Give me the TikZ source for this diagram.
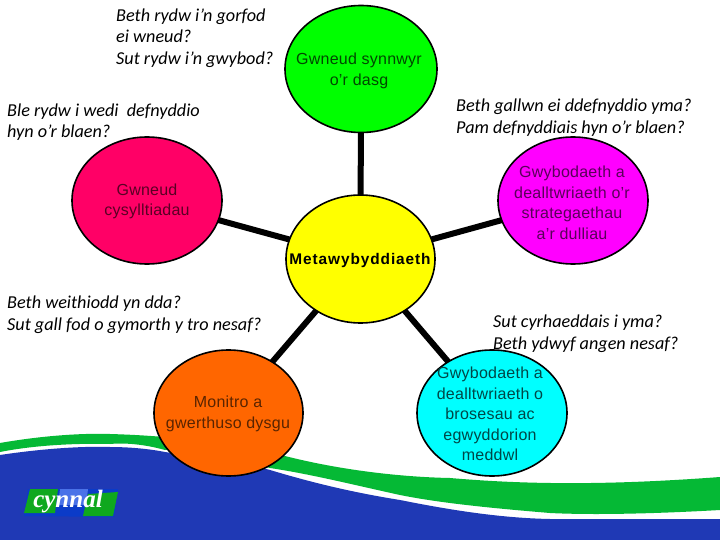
\documentclass[tikz,border=0pt]{standalone}
\usepackage{fontspec}
\setmainfont{Liberation Sans}
\newfontfamily\qfont[ItalicFont=Carlito Italic]{Carlito}
\newfontfamily\logofont{Liberation Serif}
\usetikzlibrary{shapes.geometric}
\definecolor{bandgreen}{HTML}{05B935}
\definecolor{seablue}{HTML}{1F39B5}
\definecolor{logogreen}{HTML}{0FA81E}
\definecolor{logoblue}{HTML}{0B3BC8}
\definecolor{logolight}{HTML}{4A72E8}
\definecolor{nodegreen}{HTML}{00FF00}
\definecolor{nodeyellow}{HTML}{FFFF00}
\definecolor{nodered}{HTML}{FF0066}
\definecolor{nodemag}{HTML}{FF00FF}
\definecolor{nodeor}{HTML}{FF6600}
\definecolor{nodecyan}{HTML}{00FFFF}
\tikzset{
  blob/.style={ellipse,draw=black,line width=1.6pt,inner sep=0pt,outer sep=0pt},
  blobtext/.style={align=center,font=\addfontfeature{LetterSpace=1.5}\fontsize{16}{20.5}\selectfont,inner sep=0pt},
  question/.style={align=left,anchor=west,inner sep=0pt,font=\qfont\itshape\fontsize{18.2}{22}\selectfont,text=black},
  spoke/.style={line width=6pt,draw=black},
}
\begin{document}
\begin{tikzpicture}[x=1pt,y=-1pt]
\useasboundingbox (0,0) rectangle (720,540);
\fill[white] (0,0) rectangle (720,540);
% background bands
\fill[bandgreen] (0,443) .. controls (40,436) and (80,433) .. (110,434)
  .. controls (180,436) and (230,444) .. (285,456)
  .. controls (340,470) and (400,477) .. (450,478)
  .. controls (520,484) and (600,486) .. (720,477)
  -- (720,510) .. controls (650,514) and (590,515) .. (550,513)
  .. controls (490,508) and (440,503) .. (400,495)
  .. controls (350,484) and (310,474) .. (270,468)
  .. controls (230,456) and (190,448) .. (165,450)
  .. controls (140,443) and (120,443) .. (110,444)
  .. controls (70,443) and (30,446) .. (0,452) -- cycle;
\fill[seablue] (0,455) .. controls (40,449) and (80,446) .. (110,447)
  .. controls (130,447) and (150,449) .. (165,452)
  .. controls (200,457) and (240,462) .. (270,470)
  .. controls (310,482) and (350,492) .. (400,500)
  .. controls (450,510) and (500,518) .. (550,519)
  -- (720,519) -- (720,540) -- (0,540) -- cycle;
% logo
\fill[logoblue] (24,516) -- (28,489) -- (118,489) -- (114,517) -- cycle;
\fill[logolight] (60,489) -- (88,489) -- (86,505) -- (58,505) -- cycle;
\fill[logogreen] (30,489) -- (58,489) -- (55,513) -- (24,513) -- cycle;
\fill[logogreen] (88,494) -- (118,492) -- (113,516) -- (83,516) -- cycle;
\node[inner sep=0pt,text=white,font=\logofont\bfseries\itshape\fontsize{25}{25}\selectfont] (logo) at (68,502) {cynnal};
% blobs
\node[blob,fill=nodeyellow,minimum width=149pt,minimum height=128pt] (meta) at (360.5,259) {};
\node[blob,fill=nodegreen,minimum width=152pt,minimum height=127pt] (task) at (361,69) {};
\node[blob,fill=nodered,minimum width=150pt,minimum height=127pt] (links) at (147,200.5) {};
\node[blob,fill=nodemag,minimum width=150pt,minimum height=127pt] (know) at (573,200.5) {};
\node[blob,fill=nodeor,minimum width=149pt,minimum height=126pt] (mon) at (228.5,413) {};
\node[blob,fill=nodecyan,minimum width=150pt,minimum height=126pt] (proc) at (492,413) {};
% spokes
\draw[spoke] (meta) -- (task);
\draw[spoke] (meta) -- (links);
\draw[spoke] (meta) -- (know);
\draw[spoke] (meta) -- (mon);
\draw[spoke] (meta) -- (proc);
% blob texts
\node[blobtext,text=black!72!nodegreen] (t1) at (359,71) {Gwneud synnwyr\\o’r dasg};
\node[blobtext,text=black!65!nodered] (t2) at (147,201.5) {Gwneud\\cysylltiadau};
\node[blobtext,text=black!65!nodemag] (t3) at (572,203) {Gwybodaeth a\\dealltwriaeth o’r\\strategaethau\\a’r dulliau};
\node[font=\addfontfeature{LetterSpace=6}\fontsize{15.4}{20}\selectfont\bfseries,text=black,inner sep=0pt] (t4) at (360,260.5) {Metawybyddiaeth};
\node[blobtext,text=black!65!nodeor] (t5) at (228,414) {Monitro a\\gwerthuso dysgu};
\node[blobtext,text=black!72!nodecyan] (t6) at (490,414) {Gwybodaeth a\\dealltwriaeth o\\brosesau ac\\egwyddorion\\meddwl};
% questions
\node[question,font=\qfont\itshape\fontsize{18.2}{21.6}\selectfont] (q1) at (116,38) {Beth rydw i’n gorfod\\ei wneud?\\Sut rydw i’n gwybod?};
\node[question,font=\qfont\itshape\fontsize{18.2}{21}\selectfont] (q2) at (7,122.5) {Ble rydw i wedi\ \ defnyddio\\hyn o’r blaen?};
\node[question] (q3) at (456,118) {Beth gallwn ei ddefnyddio yma?\\Pam defnyddiais hyn o’r blaen?};
\node[question] (q4) at (7,315) {Beth weithiodd yn dda?\\Sut gall fod o gymorth y tro nesaf?};
\node[question] (q5) at (493,333.5) {Sut cyrhaeddais i yma?\\Beth ydwyf angen nesaf?};
\end{tikzpicture}
\end{document}
